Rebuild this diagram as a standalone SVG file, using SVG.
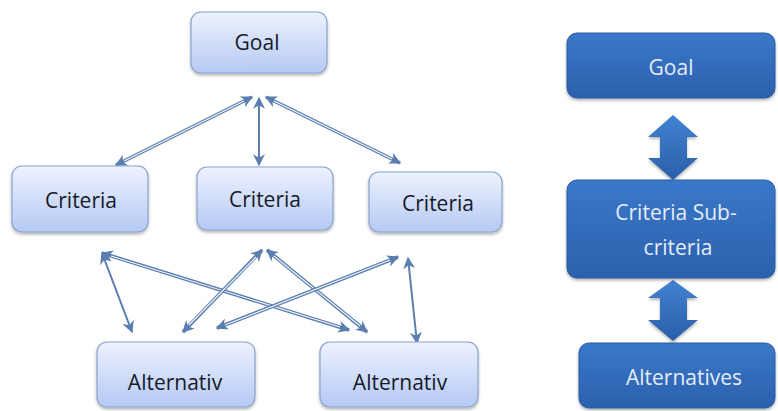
<svg xmlns="http://www.w3.org/2000/svg" width="778" height="411" viewBox="0 0 778 411">
<defs>
<linearGradient id="lg" x1="0" y1="0" x2="0" y2="1">
<stop offset="0" stop-color="#eef2ff"/>
<stop offset="1" stop-color="#b5c9f3"/>
</linearGradient>
<linearGradient id="dg" x1="0" y1="0" x2="0" y2="1">
<stop offset="0" stop-color="#3a78c9"/>
<stop offset="1" stop-color="#2b61ad"/>
</linearGradient>
<linearGradient id="ag" x1="0" y1="0" x2="0" y2="1">
<stop offset="0" stop-color="#4282d2"/>
<stop offset="1" stop-color="#2a5ea8"/>
</linearGradient>
<filter id="sh" x="-10%" y="-10%" width="120%" height="130%">
<feDropShadow dx="0" dy="2" stdDeviation="1.5" flood-color="#000" flood-opacity="0.3"/>
</filter>
<marker id="ah" viewBox="0 0 10 10" refX="9" refY="5" markerWidth="12" markerHeight="12" markerUnits="userSpaceOnUse" orient="auto-start-reverse">
<path d="M0,0 L10,5 L0,10 L3,5 Z" fill="#5a7eb0"/>
</marker>
</defs>
<style>
.lb{fill:url(#lg);stroke:#8aa3cc;stroke-width:1.2;filter:url(#sh)}
.db{fill:url(#dg);stroke:#2a5a9f;stroke-width:1;filter:url(#sh)}
.lt{font-family:"Open Sans","Noto Sans",sans-serif;font-size:21px;fill:#151a28;text-anchor:middle}
.dt{font-family:"Open Sans","Noto Sans",sans-serif;font-size:21px;fill:#e4ecf7;text-anchor:middle}
.c2{stroke:#5a7eb0;stroke-width:3.6;fill:none}
.c2i{stroke:#f4f7fc;stroke-width:1.1;fill:none}
.c1{stroke:#5a7eb0;stroke-width:2;fill:none}
.ba{fill:url(#ag);filter:url(#sh)}
</style>
<g id="connectors">
<line class="c2" x1="252" y1="97" x2="116" y2="165" marker-start="url(#ah)" marker-end="url(#ah)"/>
<line class="c2i" x1="244" y1="101" x2="124" y2="161"/>
<line class="c1" x1="259" y1="98" x2="259" y2="165" marker-start="url(#ah)" marker-end="url(#ah)"/>
<line class="c2" x1="266" y1="97" x2="400" y2="163" marker-start="url(#ah)" marker-end="url(#ah)"/>
<line class="c2i" x1="274" y1="101" x2="392" y2="159"/>
<line class="c1" x1="102" y1="253" x2="132" y2="332" marker-start="url(#ah)" marker-end="url(#ah)"/>
<line class="c2" x1="102" y1="253" x2="349" y2="330" marker-start="url(#ah)" marker-end="url(#ah)"/>
<line class="c2i" x1="111" y1="256" x2="340" y2="327"/>
<line class="c2" x1="262" y1="250" x2="183" y2="332" marker-start="url(#ah)" marker-end="url(#ah)"/>
<line class="c2i" x1="256" y1="257" x2="189" y2="325"/>
<line class="c2" x1="267" y1="250" x2="367" y2="332" marker-start="url(#ah)" marker-end="url(#ah)"/>
<line class="c2i" x1="274" y1="256" x2="360" y2="326"/>
<line class="c2" x1="398" y1="257" x2="217" y2="328" marker-start="url(#ah)" marker-end="url(#ah)"/>
<line class="c2i" x1="390" y1="260" x2="225" y2="325"/>
<line class="c1" x1="408" y1="258" x2="417" y2="343" marker-start="url(#ah)" marker-end="url(#ah)"/>
<path class="ba" d="M673,115 L698,137 L687,137 L687,158 L698,158 L673,180 L648,158 L660,158 L660,137 L648,137 Z"/>
<path class="ba" d="M673,280 L698,298 L687,298 L687,320 L698,320 L673,341 L648,320 L660,320 L660,298 L648,298 Z"/>
</g>
<g id="goal-left">
<rect class="lb" x="191" y="12" width="136" height="61" rx="10"/>
<text class="lt" x="257" y="50">Goal</text>
</g>
<g id="criteria-1">
<rect class="lb" x="12" y="166" width="136" height="66" rx="10"/>
<text class="lt" x="81" y="208">Criteria</text>
</g>
<g id="criteria-2">
<rect class="lb" x="197" y="167" width="136" height="63" rx="10"/>
<text class="lt" x="265" y="207">Criteria</text>
</g>
<g id="criteria-3">
<rect class="lb" x="369" y="172" width="133" height="60" rx="10"/>
<text class="lt" x="438" y="211">Criteria</text>
</g>
<g id="alternativ-1">
<rect class="lb" x="97" y="342" width="158" height="65" rx="10"/>
<text class="lt" x="175" y="390">Alternativ</text>
</g>
<g id="alternativ-2">
<rect class="lb" x="320" y="342" width="158" height="65" rx="10"/>
<text class="lt" x="400" y="390">Alternativ</text>
</g>
<g id="goal-right">
<rect class="db" x="567" y="33" width="208" height="65" rx="10"/>
<text class="dt" x="671" y="75">Goal</text>
</g>
<g id="criteria-sub">
<rect class="db" x="567" y="180" width="208" height="98" rx="10"/>
<text class="dt" x="676" y="220">Criteria Sub-</text>
<text class="dt" x="678" y="255">criteria</text>
</g>
<g id="alternatives">
<rect class="db" x="579" y="343" width="196" height="65" rx="10"/>
<text class="dt" x="684" y="385">Alternatives</text>
</g>
</svg>
